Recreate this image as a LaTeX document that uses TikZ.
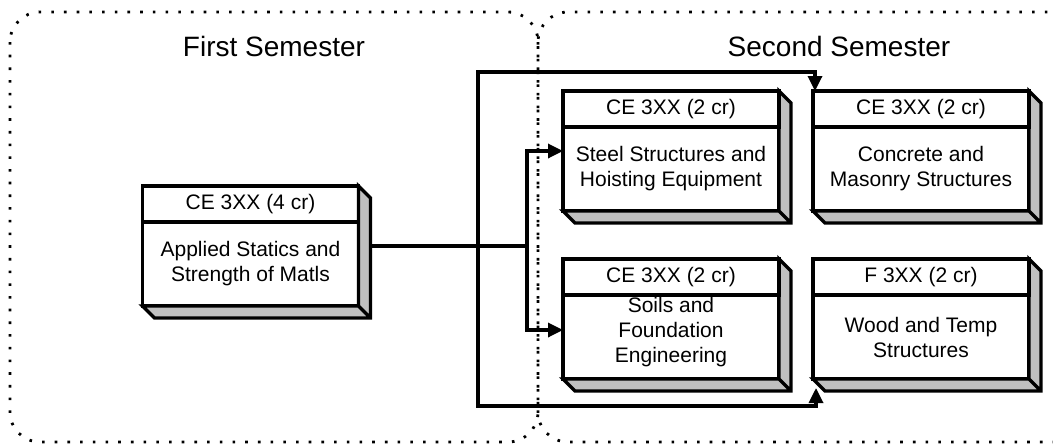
\documentclass[tikz,border=0pt]{standalone}
\usepackage{fontspec}
\setmainfont{Liberation Sans}
\usetikzlibrary{arrows.meta,positioning}
\definecolor{bevel}{RGB}{192,192,192}

\begin{document}
\begin{tikzpicture}[x=1pt,y=-1pt,>={Triangle[length=15pt,width=14pt]},line width=3.3pt,
    course/.style={rectangle, draw, line width=3.4pt, fill=white, outer sep=0pt, minimum width=216pt, minimum height=120pt},
    header/.style={rectangle, draw, line width=3.4pt, outer sep=0pt, minimum width=216pt, minimum height=36pt, font=\fontsize{21}{24}\selectfont},
    body/.style={rectangle, outer sep=0pt, inner sep=2pt, minimum width=216pt, minimum height=84pt, align=center, font=\fontsize{21}{25}\selectfont},
    semester/.style={line width=2.8pt, dash pattern=on 2.6pt off 10.1pt, rounded corners=30pt},
    title/.style={anchor=base, font=\fontsize{28}{32}\selectfont}]
  \useasboundingbox (0,0) rectangle (1053,445);
  \clip (0,0) rectangle (1053,445);

  % semesters
  \draw[semester] (10,12) rectangle (538,442);
  \draw[semester] (538,12) rectangle (1140,442);
  \node[title] (first)  at (274,56) {First Semester};
  \node[title] (second) at (839,56) {Second Semester};

  % course boxes
  \node[course]                    (A) at (250.5,246) {};
  \node[course]                    (B) at (671,151)   {};
  \node[course, right=34pt of B]   (C) {};
  \node[course, below=48pt of B]   (D) {};
  \node[course, right=34pt of D]   (E) {};

  \foreach \n in {A,B,C,D,E}
    \draw[line width=3.4pt, fill=bevel, line join=miter]
      (\n.north east) -- ++(12,12) -- ([shift={(12,12)}]\n.south east)
      -- ([shift={(12,12)}]\n.south west) -- (\n.south west) -- (\n.south east) -- cycle
      (\n.south east) -- ++(12,12);

  \node[header, below=0pt of A.north] (Ah) {CE 3XX (4 cr)};
  \node[body, below=0pt of Ah]        (Ab) {Applied Statics and\\Strength of Matls};
  \node[header, below=0pt of B.north] (Bh) {CE 3XX (2 cr)};
  \node[body, below=0pt of Bh]        (Bb) {Steel Structures and\\Hoisting Equipment};
  \node[header, below=0pt of C.north] (Ch) {CE 3XX (2 cr)};
  \node[body, below=0pt of Ch]        (Cb) {Concrete and\\Masonry Structures};
  \node[header, below=0pt of D.north] (Dh) {CE 3XX (2 cr)};
  \node[body, below=0pt of Dh, yshift=5pt] (Db) {Soils and\\Foundation\\Engineering};
  \node[header, below=0pt of E.north] (Eh) {F 3XX (2 cr)};
  \node[body, below=0pt of Eh]        (Eb) {Wood and Temp\\Structures};

  % prerequisites
  \coordinate (J) at (527,246);
  \coordinate (L) at (478,246);
  \draw ([xshift=12pt]A.east) -- (J);
  \draw[->] (J) |- (B.west);
  \draw[->] (J) |- ([yshift=-11pt]D.west);
  \draw[->] (L) |- ([xshift=2pt,yshift=19pt]C.north west) -- ([xshift=2pt]C.north west);
  \draw[->] (L) |- ([xshift=3pt,yshift=-27pt]E.south west) -- ([xshift=3pt,yshift=-9pt]E.south west);
\end{tikzpicture}
\end{document}
